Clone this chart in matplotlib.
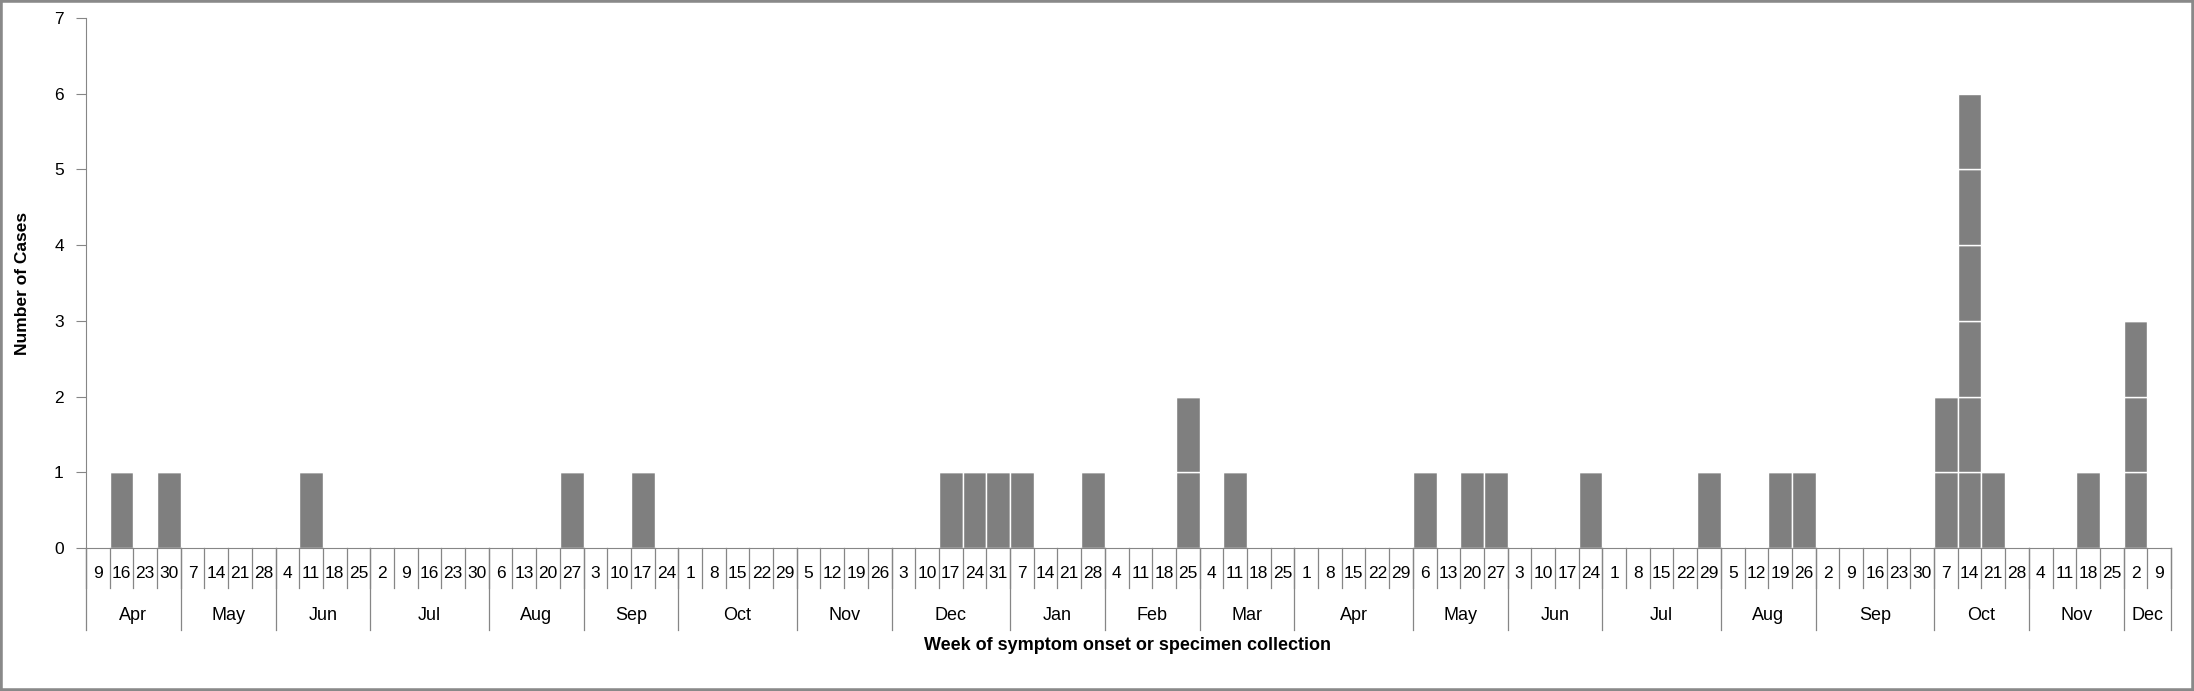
import numpy as np
import matplotlib
matplotlib.use('Agg')
import matplotlib.pyplot as plt
from matplotlib.patches import Rectangle

FONT = ['Liberation Sans', 'DejaVu Sans']
plt.rcParams['font.family'] = FONT

# Semaines (lundi) et mois
months = ['Apr', 'May', 'Jun', 'Jul', 'Aug', 'Sep', 'Oct', 'Nov', 'Dec', 'Jan',
          'Feb', 'Mar', 'Apr', 'May', 'Jun', 'Jul', 'Aug', 'Sep', 'Oct', 'Nov', 'Dec']
month_days = [
    [9, 16, 23, 30], [7, 14, 21, 28], [4, 11, 18, 25], [2, 9, 16, 23, 30],
    [6, 13, 20, 27], [3, 10, 17, 24], [1, 8, 15, 22, 29], [5, 12, 19, 26],
    [3, 10, 17, 24, 31], [7, 14, 21, 28], [4, 11, 18, 25], [4, 11, 18, 25],
    [1, 8, 15, 22, 29], [6, 13, 20, 27], [3, 10, 17, 24], [1, 8, 15, 22, 29],
    [5, 12, 19, 26], [2, 9, 16, 23, 30], [7, 14, 21, 28], [4, 11, 18, 25], [2, 9],
]
# Nombre de cas par semaine, mois par mois
month_cases = [
    [0, 1, 0, 1], [0, 0, 0, 0], [0, 1, 0, 0], [0, 0, 0, 0, 0],
    [0, 0, 0, 1], [0, 0, 1, 0], [0, 0, 0, 0, 0], [0, 0, 0, 0],
    [0, 0, 1, 1, 1], [1, 0, 0, 1], [0, 0, 0, 2], [0, 1, 0, 0],
    [0, 0, 0, 0, 0], [1, 0, 1, 1], [0, 0, 0, 1], [0, 0, 0, 0, 1],
    [0, 0, 1, 1], [0, 0, 0, 0, 0], [2, 6, 1, 0], [0, 0, 1, 0], [3, 0],
]

week_labels = [str(d) for days in month_days for d in days]
cases = np.array([c for cs in month_cases for c in cs])
n = len(cases)
x = np.arange(n) + 0.5

fig = plt.figure(figsize=(21.94, 6.91), dpi=100)
ax = fig.add_axes([86 / 2194, 1 - 548 / 691, (2171 - 86) / 2194, (548 - 18) / 691])

# Une boite par cas (empilées)
for k in range(cases.max()):
    h = np.where(cases > k, 1, 0)
    ax.bar(x, h, width=1.0, bottom=k, color='#7f7f7f', edgecolor='white', linewidth=1.0)

ax.set_xlim(0, n)
ax.set_ylim(0, 7)
ax.set_yticks(range(8))
ax.set_xticks([])
for s in ['top', 'right']:
    ax.spines[s].set_visible(False)
for s in ['left', 'bottom']:
    ax.spines[s].set_color('#868686')
ax.tick_params(axis='y', length=7, color='#868686', pad=9, labelsize=12.5)
ax.set_ylabel('Number of Cases', fontsize=12.5, fontweight='bold', labelpad=17)

# Axe x à deux niveaux
tr = ax.get_xaxis_transform()
gray = '#868686'
for i in range(n + 1):
    ax.plot([i, i], [0, -0.0755], transform=tr, color=gray, lw=0.9, clip_on=False)
for i, lab in enumerate(week_labels):
    ax.text(i + 0.5, -0.049, lab, transform=tr, ha='center', va='center', fontsize=12.5)
start = 0
for m, days in zip(months, month_days):
    end = start + len(days)
    ax.plot([start, start], [0, -0.155], transform=tr, color=gray, lw=0.9, clip_on=False)
    ax.text((start + end) / 2, -0.128, m, transform=tr, ha='center', va='center', fontsize=13)
    start = end
ax.plot([n, n], [0, -0.155], transform=tr, color=gray, lw=0.9, clip_on=False)

fig.text(1128 / 2194, 1 - 646 / 691, 'Week of symptom onset or specimen collection',
         ha='center', va='center', fontsize=13, fontweight='bold')

fig.patches.append(Rectangle((0, 0), 1, 1, transform=fig.transFigure, fill=False,
                             edgecolor='#898989', linewidth=4))

fig.savefig('out.png', dpi=100)
